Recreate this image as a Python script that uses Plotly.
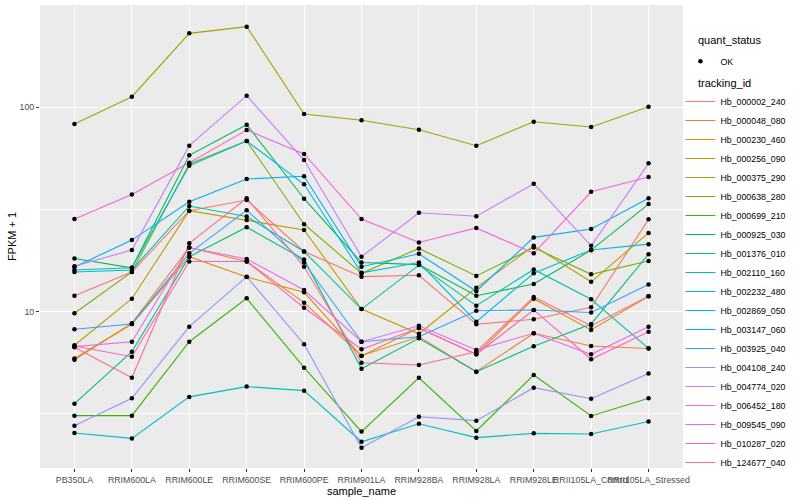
import plotly.graph_objects as go

samples = ["PB350LA", "RRIM600LA", "RRIM600LE", "RRIM600SE", "RRIM600PE", "RRIM901LA",
           "RRIM928BA", "RRIM928LA", "RRIM928LE", "RRII105LA_Control", "RRII105LA_Stressed"]

tracking_ids = ["Hb_000002_240", "Hb_000048_080", "Hb_000230_460", "Hb_000256_090", "Hb_000375_290",
                "Hb_000638_280", "Hb_000699_210", "Hb_000925_030", "Hb_001376_010", "Hb_002110_160",
                "Hb_002232_480", "Hb_002869_050", "Hb_003147_060", "Hb_003925_040", "Hb_004108_240",
                "Hb_004774_020", "Hb_006452_180", "Hb_009545_090", "Hb_010287_020", "Hb_124677_040"]

colors = ["#F8766D", "#EA8331", "#D89000", "#C09B00", "#A3A500", "#7CAE00", "#39B600", "#00BB4E",
          "#00BF7D", "#00C1A3", "#00BFC4", "#00BAE0", "#00B0F6", "#35A2FF", "#9590FF", "#C77CFF",
          "#E76BF3", "#FA62DB", "#FF62BC", "#FF6C91"]

# FPKM + 1 values, one list per tracking_id (order of samples)
Hb_000002_240 = [11.97, 15.64, 31.2, 35.2, 19.7, 14.84, 15.07, 8.68, 9.18, 10.5, 28.3]
Hb_000048_080 = [5.82, 8.77, 20.6, 17.6, 11.07, 6.09, 7.54, 5.09, 7.84, 6.80, 6.61]
Hb_000230_460 = [5.90, 8.71, 18.58, 14.78, 12.44, 6.07, 8.32, 6.19, 11.58, 8.14, 11.9]
Hb_000256_090 = [6.85, 11.58, 31.2, 28.1, 25.1, 10.3, 7.8, 13.1, 21.0, 14.0, 24.3]
Hb_000375_290 = [82.8, 112.7, 230.0, 248.0, 92.7, 86.4, 77.7, 64.9, 85.0, 80.1, 100.7]
Hb_000638_280 = [9.82, 15.64, 52.8, 68.4, 26.8, 15.41, 20.4, 14.95, 20.6, 15.24, 17.7]
Hb_000699_210 = [3.10, 3.10, 7.13, 11.63, 5.32, 2.59, 4.75, 2.61, 4.90, 3.09, 3.77]
Hb_000925_030 = [18.2, 16.4, 58.2, 82.2, 35.7, 17.4, 17.0, 11.97, 13.66, 20.0, 33.6]
Hb_001376_010 = [3.55, 6.37, 18.58, 25.9, 18.0, 5.26, 7.41, 5.09, 6.77, 8.71, 19.1]
Hb_002110_160 = [15.64, 16.0, 32.9, 29.2, 19.7, 10.3, 16.9, 10.7, 16.1, 11.5, 6.62]
Hb_002232_480 = [2.55, 2.40, 3.83, 4.30, 4.11, 2.31, 2.83, 2.42, 2.54, 2.52, 2.90]
Hb_002869_050 = [16.0, 16.4, 51.8, 68.4, 42.0, 15.5, 17.4, 8.93, 15.41, 20.04, 21.4]
Hb_003147_060 = [16.55, 22.4, 34.5, 44.6, 46.0, 16.6, 19.2, 12.6, 23.1, 25.4, 35.9]
Hb_003925_040 = [8.20, 8.71, 19.3, 31.4, 17.4, 7.13, 7.54, 10.1, 10.2, 9.91, 13.6]
Hb_004108_240 = [2.77, 3.77, 8.45, 14.84, 6.93, 2.16, 3.06, 2.93, 4.25, 3.75, 4.99]
Hb_004774_020 = [16.7, 20.04, 64.9, 114.0, 55.2, 18.58, 30.5, 29.3, 42.3, 21.0, 53.2]
Hb_006452_180 = [6.75, 7.13, 20.6, 18.1, 12.77, 7.13, 8.54, 6.50, 7.84, 6.19, 8.45]
Hb_009545_090 = [28.4, 37.4, 53.6, 77.4, 59.1, 28.4, 21.8, 25.7, 19.3, 38.6, 45.6]
Hb_010287_020 = [6.80, 6.02, 17.6, 17.6, 10.46, 6.55, 8.32, 6.19, 10.2, 5.85, 7.98]
Hb_124677_040 = [6.70, 4.75, 21.6, 35.9, 16.6, 5.63, 5.49, 6.37, 11.8, 8.54, 11.9]

series = [Hb_000002_240, Hb_000048_080, Hb_000230_460, Hb_000256_090, Hb_000375_290,
          Hb_000638_280, Hb_000699_210, Hb_000925_030, Hb_001376_010, Hb_002110_160,
          Hb_002232_480, Hb_002869_050, Hb_003147_060, Hb_003925_040, Hb_004108_240,
          Hb_004774_020, Hb_006452_180, Hb_009545_090, Hb_010287_020, Hb_124677_040]

FONT = "Liberation Sans, Arial, Helvetica, sans-serif"

fig = go.Figure()

for name, vals, col in zip(tracking_ids, series, colors):
    fig.add_trace(go.Scatter(
        x=samples, y=vals, mode="lines", name=name,
        line=dict(color=col, width=1.1), legend="legend",
    ))

all_x = [s for vals in series for s in samples]
all_y = [v for vals in series for v in vals]
fig.add_trace(go.Scatter(
    x=all_x, y=all_y, mode="markers", name="OK",
    marker=dict(color="black", size=4.5, symbol="circle"),
    legend="legend2",
))

fig.update_layout(
    width=800, height=500,
    margin=dict(l=40, r=117, t=5, b=32),
    paper_bgcolor="white", plot_bgcolor="#EBEBEB",
    font=dict(family=FONT, size=11, color="black"),
    showlegend=True,
    xaxis=dict(
        type="category", categoryorder="array", categoryarray=samples,
        range=[-0.6, 10.6], showgrid=True, gridcolor="white", gridwidth=1.1,
        zeroline=False, showline=False, ticks="outside", ticklen=3,
        tickcolor="#333333", tickwidth=1, tickangle=0,
        tickfont=dict(family=FONT, size=8.8, color="#4D4D4D"),
        title=dict(text="sample_name", font=dict(family=FONT, size=11, color="black"), standoff=2),
        automargin=False,
    ),
    yaxis=dict(
        type="log", range=[0.2353, 2.5005],
        tickvals=[10, 100], ticktext=["10", "100"],
        showgrid=True, gridcolor="white", gridwidth=1.1,
        zeroline=False, showline=False, ticks="outside", ticklen=3,
        tickcolor="#333333", tickwidth=1,
        tickfont=dict(family=FONT, size=8.8, color="#4D4D4D"),
        minor=dict(tickvals=[3.1623, 31.623], showgrid=True, gridcolor="white",
                   gridwidth=0.55, ticks=""),
        title=dict(text="FPKM + 1", font=dict(family=FONT, size=11, color="black"), standoff=0),
        automargin=False,
    ),
    legend=dict(
        x=0.996, xanchor="left", y=0.823, yanchor="top",
        font=dict(family=FONT, size=8.8, color="black"),
        bgcolor="rgba(0,0,0,0)", itemwidth=30, tracegroupgap=0,
    ),
    legend2=dict(
        x=0.996, xanchor="left", y=0.91, yanchor="top",
        font=dict(family=FONT, size=8.8, color="black"),
        bgcolor="rgba(0,0,0,0)", itemwidth=30,
    ),
    annotations=[
        dict(text="quant_status", xref="paper", yref="paper", x=1.0202, y=0.9244,
             xanchor="left", yanchor="middle", showarrow=False,
             font=dict(family=FONT, size=11, color="black")),
        dict(text="tracking_id", xref="paper", yref="paper", x=1.0202, y=0.8315,
             xanchor="left", yanchor="middle", showarrow=False,
             font=dict(family=FONT, size=11, color="black")),
    ],
)

fig.write_html("out.html", config={"displayModeBar": False},
               post_script="document.body.style.margin='0px';")
